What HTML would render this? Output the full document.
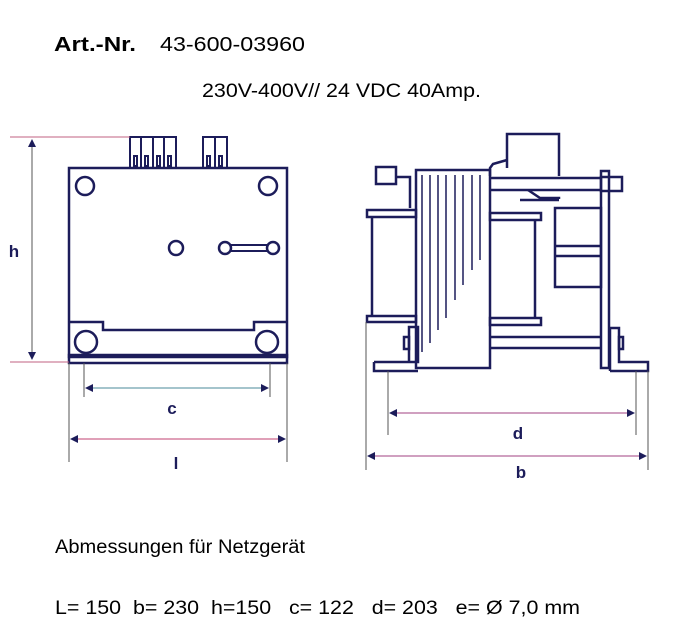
<!DOCTYPE html>
<html><head><style>html,body{margin:0;padding:0;background:#fff}svg{display:block}</style></head><body>
<svg width="685" height="625" viewBox="0 0 685 625" xmlns="http://www.w3.org/2000/svg" font-family="Liberation Sans, sans-serif">
<defs>
<marker id="a" markerWidth="8" markerHeight="8" refX="7" refY="4" orient="auto-start-reverse" markerUnits="userSpaceOnUse"><path d="M0,0 L8,4 L0,8 z" fill="#1c1c5a"/></marker>
</defs>
<text x="54" y="51" font-size="20" font-weight="bold" textLength="82" lengthAdjust="spacingAndGlyphs">Art.-Nr.</text>
<text x="160" y="51" font-size="20" textLength="145" lengthAdjust="spacingAndGlyphs">43-600-03960</text>
<text x="202" y="97" font-size="19" textLength="279" lengthAdjust="spacingAndGlyphs">230V-400V// 24 VDC 40Amp.</text>
<text x="55" y="553" font-size="19" textLength="250" lengthAdjust="spacingAndGlyphs">Abmessungen für Netzgerät</text>
<text x="55" y="614" font-size="19" textLength="525" lengthAdjust="spacingAndGlyphs" xml:space="preserve">L= 150  b= 230  h=150   c= 122   d= 203   e= Ø 7,0 mm</text>

<g stroke="#1c1c5a" stroke-width="2.5" fill="none">
<rect x="69" y="168" width="218" height="189"/>
<rect x="69" y="355" width="218" height="8"/>
<path d="M69,322 H103 V330 H254 V322 H287"/>
<g stroke-width="2">
<rect x="130" y="137" width="46" height="31"/>
<line x1="141" y1="137" x2="141" y2="168"/><line x1="153" y1="137" x2="153" y2="168"/><line x1="164" y1="137" x2="164" y2="168"/>
<rect x="203" y="137" width="24" height="31"/><line x1="215" y1="137" x2="215" y2="168"/>
<rect x="134" y="156" width="3" height="10"/><rect x="145" y="156" width="3" height="10"/><rect x="157" y="156" width="3" height="10"/><rect x="168" y="156" width="3" height="10"/>
<rect x="207" y="156" width="3" height="10"/><rect x="219" y="156" width="3" height="10"/>
</g>
<circle cx="85" cy="186" r="9"/><circle cx="268" cy="186" r="9"/>
<circle cx="176" cy="248" r="7"/>
<circle cx="225" cy="248" r="6"/><circle cx="273" cy="248" r="6"/>
<path d="M231,245 H267 M231,251 H267" stroke-width="2"/>
<circle cx="86" cy="342" r="11"/><circle cx="267" cy="342" r="11"/>

<rect x="416" y="170" width="74" height="198"/>
<path d="M507,168 V134 H559 V176" />
<path d="M490,176 V168 L493,164 L507,160"/>
<rect x="376" y="167" width="20" height="17"/>
<path d="M396,177 H410 V208"/>
<rect x="367" y="210" width="49" height="7"/><rect x="367" y="316" width="49" height="6"/>
<path d="M372,217 V316"/>
<rect x="490" y="213" width="51" height="7"/><rect x="490" y="318" width="51" height="7"/>
<path d="M535,220 V318"/>
<path d="M490,178 H601 M490,190 H601"/>
<rect x="601" y="177" width="21" height="14"/>
<path d="M528,190 L540,198 H559 V199" />
<path d="M520,200 H559"/>
<path d="M490,337 H601 M490,348 H601"/>
<rect x="601" y="171" width="8" height="197"/>
<rect x="555" y="208" width="46" height="79"/>
<path d="M555,246 H601 M555,256 H601"/>
<path d="M374,362 H418 V327 H409 V362 M374,362 V371 H418"/>
<rect x="404" y="337" width="5" height="12"/>
<path d="M610,371 V328 H619 V362 H648 V371 H610"/>
<rect x="619" y="337" width="4" height="12"/>
<g stroke-width="1.5">
<line x1="422" y1="175" x2="422" y2="352"/>
<line x1="430" y1="175" x2="430" y2="343"/>
<line x1="438" y1="175" x2="438" y2="330"/>
<line x1="446" y1="175" x2="446" y2="318"/>
<line x1="455" y1="175" x2="455" y2="300"/>
<line x1="463" y1="175" x2="463" y2="285"/>
<line x1="472" y1="175" x2="472" y2="270"/>
<line x1="480" y1="175" x2="480" y2="260"/>
</g>
</g>

<g stroke-width="1" fill="none">
<line x1="10" y1="137" x2="130" y2="137" stroke="#c06080"/>
<line x1="10" y1="362" x2="69" y2="362" stroke="#c06080"/>
<line x1="32" y1="140" x2="32" y2="359" stroke="#555" marker-start="url(#a)" marker-end="url(#a)"/>
<line x1="69" y1="363" x2="69" y2="462" stroke="#555"/>
<line x1="287" y1="363" x2="287" y2="462" stroke="#555"/>
<line x1="84" y1="363" x2="84" y2="397" stroke="#555"/>
<line x1="270" y1="363" x2="270" y2="397" stroke="#555"/>
<line x1="86" y1="388" x2="268" y2="388" stroke="#4a8a9a" marker-start="url(#a)" marker-end="url(#a)"/>
<line x1="71" y1="439" x2="285" y2="439" stroke="#c04070" marker-start="url(#a)" marker-end="url(#a)"/>
<line x1="366" y1="322" x2="366" y2="470" stroke="#555"/>
<line x1="648" y1="371" x2="648" y2="470" stroke="#555"/>
<line x1="388" y1="371" x2="388" y2="435" stroke="#555"/>
<line x1="636" y1="371" x2="636" y2="435" stroke="#555"/>
<line x1="390" y1="413" x2="634" y2="413" stroke="#a04080" marker-start="url(#a)" marker-end="url(#a)"/>
<line x1="368" y1="456" x2="646" y2="456" stroke="#a04080" marker-start="url(#a)" marker-end="url(#a)"/>
</g>
<g font-weight="bold" font-size="17" fill="#1c1c5a" text-anchor="middle">
<text x="14" y="257">h</text>
<text x="172" y="414">c</text>
<text x="176" y="469">l</text>
<text x="518" y="439">d</text>
<text x="521" y="478">b</text>
</g>
</svg>
</body></html>
